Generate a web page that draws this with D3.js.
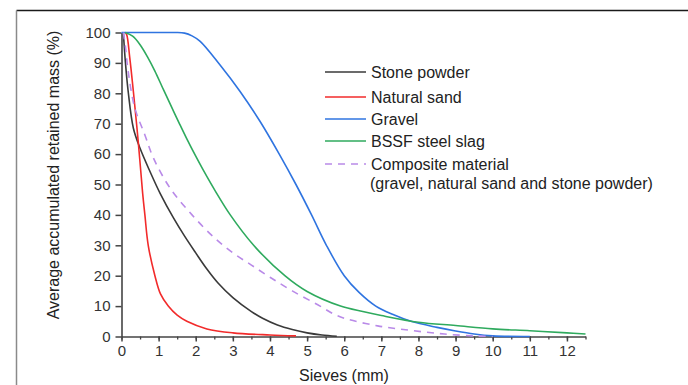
<!DOCTYPE html>
<html>
<head>
<meta charset="utf-8">
<script src="https://cdn.jsdelivr.net/npm/d3@7/dist/d3.min.js"></script>
<style>
  body { margin: 0; background: #fff; }
  svg { display: block; font-family: "Liberation Sans", Arial, sans-serif; }
</style>
</head>
<body>
<svg id="chart" width="688" height="385"></svg>
<script>
// sieve size (mm) and retained mass (%)
var stoneX = [0.05, 0.1, 0.18, 0.32, 0.5, 0.77, 1.04, 1.4, 1.7, 2, 2.3, 2.6, 3, 3.5, 3.8, 4.2, 4.6, 5, 5.4, 5.8];
var stoneY = [100, 91, 80.6, 68.5, 61.9, 54.2, 47.1, 39, 33, 27.5, 22.2, 17.6, 12.8, 8.2, 6, 3.8, 2.3, 1.2, 0.5, 0.1];

var sandX = [0.1, 0.14, 0.22, 0.32, 0.45, 0.57, 0.63, 0.72, 0.9, 1.05, 1.26, 1.5, 1.76, 2.3, 3, 4, 4.7];
var sandY = [100, 99.3, 92, 80.6, 64.2, 47.1, 40, 30, 20, 14, 10, 7, 5, 2.5, 1.2, 0.5, 0.2];

var gravelX = [0, 0.5, 1, 1.45, 1.7, 1.9, 2.12, 2.65, 3.19, 3.73, 4.25, 4.7, 5.12, 5.52, 6, 6.4, 6.85, 7.3, 7.8, 8.5, 9, 9.5, 10, 11];
var gravelY = [100, 100, 100, 100, 99.8, 98.9, 97.1, 89.4, 80.7, 70.8, 60, 50, 40, 30, 20, 14.5, 10, 7.3, 5, 3, 1.8, 0.8, 0.2, 0];

var slagX = [0.1, 0.3, 0.5, 0.7, 0.9, 1.1, 1.31, 1.55, 1.76, 2, 2.2, 2.52, 2.93, 3.56, 4.4, 5, 5.9, 6.5, 7, 8, 9, 10, 11, 12, 12.5];
var slagY = [100, 98.8, 96, 92, 87.3, 82, 76.5, 70.3, 65, 59.3, 54.8, 48, 40, 30, 20, 14.8, 10, 8.2, 6.9, 4.7, 3.6, 2.5, 1.9, 1.2, 0.8];

var compX = [0.05, 0.1, 0.18, 0.36, 0.63, 0.86, 1.31, 1.9, 2.5, 3, 3.5, 4, 4.6, 5.35, 5.7, 6, 6.9, 7.8, 8.7, 9.5, 10];
var compY = [100, 96, 87.2, 75.1, 66.3, 58.7, 48.8, 40, 32.5, 27.5, 23.5, 19.5, 15, 10, 7.5, 6, 3.5, 2, 0.8, 0.2, 0];

var seriesNames = ["Stone powder", "Natural sand", "Gravel", "BSSF steel slag", "Composite material"];
var seriesColors = ["#3a3a3a", "#f22b2b", "#2f74e0", "#2faa5e", "#b98ae8"];
var seriesDash = [null, null, null, null, "7,6"];
var seriesData = [[stoneX, stoneY], [sandX, sandY], [gravelX, gravelY], [slagX, slagY], [compX, compY]];

var xTicks = [0, 1, 2, 3, 4, 5, 6, 7, 8, 9, 10, 11, 12];
var yTicks = [0, 10, 20, 30, 40, 50, 60, 70, 80, 90, 100];

var svg = d3.select("#chart");

// outer frame (only top and left edge show in the picture)
svg.append("line").attr("x1", 16.5).attr("y1", 10.5).attr("x2", 688).attr("y2", 10.5)
  .style("stroke", "#1a1a1a").style("stroke-width", 1.5);
svg.append("line").attr("x1", 16.5).attr("y1", 10.5).attr("x2", 16.5).attr("y2", 385)
  .style("stroke", "#8a8a8a").style("stroke-width", 1.5);

var x = d3.scaleLinear().domain([0, 12.5]).range([121.5, 585.5]);
var y = d3.scaleLinear().domain([0, 100]).range([336.5, 32.5]);

// x axis with minor ticks at every half mm
var xMinor = d3.range(0, 12.51, 0.5);
svg.append("g")
  .attr("transform", "translate(0," + y(0) + ")")
  .call(d3.axisBottom(x).tickValues(xMinor).tickSize(3).tickFormat(""))
  .call(function(g) { g.select(".domain").remove(); })
  .selectAll("line").style("stroke", "#444").style("stroke-width", 1.3);

var xAxis = svg.append("g")
  .attr("transform", "translate(0," + y(0) + ")")
  .call(d3.axisBottom(x).tickValues(xTicks).tickSize(5).tickPadding(4).tickSizeOuter(0));
xAxis.select(".domain").style("stroke", "#444").style("stroke-width", 1.6);
xAxis.selectAll("line").style("stroke", "#444").style("stroke-width", 1.5);
xAxis.selectAll("text").style("font-size", "15px").style("fill", "#333")
  .style("font-family", "'Liberation Sans', Arial, sans-serif");

var yAxis = svg.append("g")
  .attr("transform", "translate(" + x(0) + ",0)")
  .call(d3.axisLeft(y).tickValues(yTicks).tickSize(6).tickPadding(5).tickSizeOuter(0));
yAxis.select(".domain").style("stroke", "#444").style("stroke-width", 1.6);
yAxis.selectAll("line").style("stroke", "#444").style("stroke-width", 1.5);
yAxis.selectAll("text").style("font-size", "15px").style("fill", "#333")
  .style("font-family", "'Liberation Sans', Arial, sans-serif");

// axis titles
svg.append("text")
  .attr("transform", "translate(59,175) rotate(-90)")
  .attr("text-anchor", "middle")
  .style("font-size", "16px").style("fill", "#222")
  .text("Average accumulated retained mass (%)");

svg.append("text")
  .attr("x", 344).attr("y", 381)
  .attr("text-anchor", "middle")
  .style("font-size", "16px").style("fill", "#222")
  .text("Sieves (mm)");

// curves
var line = d3.line()
  .x(function(d) { return x(d[0]); })
  .y(function(d) { return y(d[1]); })
  .curve(d3.curveCatmullRom.alpha(0.5));

seriesData.map(function(s, i) {
  var pts = s[0].map(function(v, k) { return [v, s[1][k]]; });
  svg.append("path")
    .datum(pts)
    .attr("d", line)
    .style("fill", "none")
    .style("stroke", seriesColors[i])
    .style("stroke-width", 1.6)
    .style("stroke-dasharray", seriesDash[i]);
});

// legend
var legY = [72, 97, 119, 141, 164];
seriesNames.map(function(name, i) {
  svg.append("line")
    .attr("x1", 325).attr("x2", 366)
    .attr("y1", legY[i]).attr("y2", legY[i])
    .style("stroke", seriesColors[i])
    .style("stroke-width", 1.6)
    .style("stroke-dasharray", seriesDash[i]);
  svg.append("text")
    .attr("x", 371).attr("y", legY[i] + 6)
    .style("font-size", "16px").style("fill", "#222")
    .text(name);
});
svg.append("text")
  .attr("x", 370).attr("y", 189)
  .style("font-size", "16px").style("fill", "#222")
  .text("(gravel, natural sand and stone powder)");
</script>
</body>
</html>
